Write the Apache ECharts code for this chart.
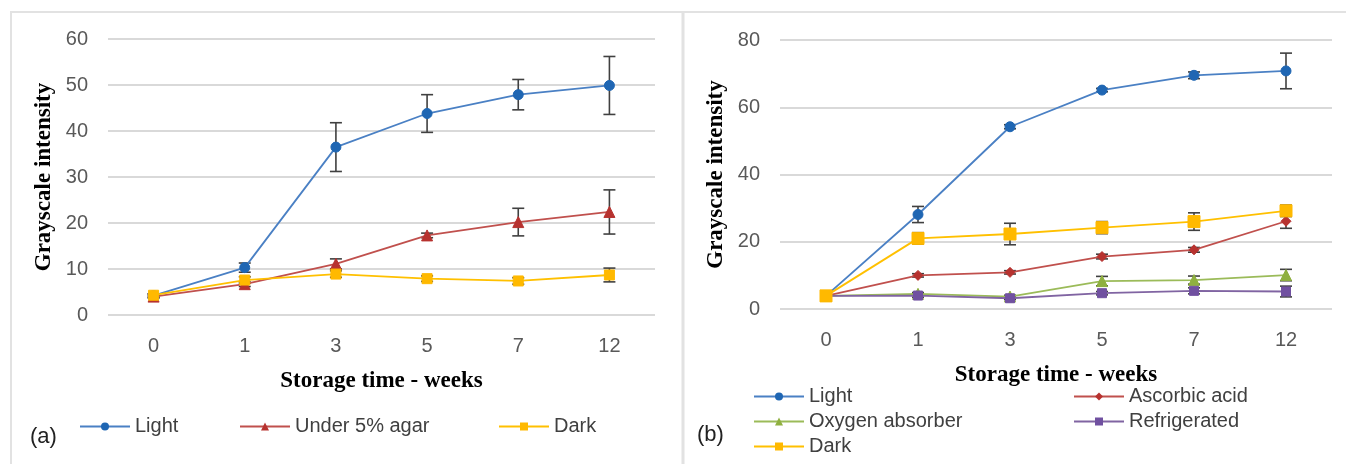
<!DOCTYPE html>
<html>
<head>
<meta charset="utf-8">
<script src="https://cdn.jsdelivr.net/npm/echarts@6/dist/echarts.min.js"></script>
<style>
html,body{margin:0;padding:0;background:#fff;}
#c{width:1346px;height:464px;}
</style>
</head>
<body>
<div id="c"></div>
<script>
// ---- Data ----
const weeks = ['0', '1', '3', '5', '7', '12'];
const yTicksA = [0, 10, 20, 30, 40, 50, 60];
const yTicksB = [0, 20, 40, 60, 80];

// Panel (a)
const aLight = [4.2, 10.3, 36.5, 43.8, 47.9, 49.9];
const aLightErr = [0.4, 1.0, 5.3, 4.1, 3.3, 6.3];
const aAgar = [4.0, 6.7, 11.1, 17.3, 20.2, 22.4];
const aAgarErr = [0.3, 0.5, 1.1, 0.5, 3.0, 4.8];
const aDark = [4.3, 7.6, 8.9, 7.9, 7.4, 8.7];
const aDarkErr = [0.3, 0.7, 0.7, 0.6, 0.7, 1.5];

// Panel (b)
const bLight = [3.9, 28.1, 54.2, 65.1, 69.5, 70.8];
const bLightErr = [0.3, 2.4, 0.6, 0.5, 1.0, 5.3];
const bAscorbic = [3.9, 10.0, 10.9, 15.6, 17.6, 26.1];
const bAscorbicErr = [0.3, 0.5, 0.5, 0.7, 0.7, 2.1];
const bOxygen = [3.9, 4.5, 3.7, 8.3, 8.6, 10.1];
const bOxygenErr = [0.3, 0.4, 0.4, 1.4, 1.2, 1.7];
const bFridge = [3.9, 4.0, 3.2, 4.7, 5.4, 5.2];
const bFridgeErr = [0.3, 0.5, 0.4, 0.5, 0.9, 1.6];
const bDark = [3.9, 21.0, 22.3, 24.2, 26.0, 29.2];
const bDarkErr = [0.3, 1.7, 3.2, 1.8, 2.6, 1.7];

// ---- Styles ----
const C = {
  blueLine: '#4a80c4', blueMark: '#1f66b3',
  redLine: '#c0504d', redMark: '#b7322f',
  yellow: '#ffc000', yellowMark: '#ffb900',
  greenLine: '#9bbb59', greenMark: '#8fb040',
  purpleLine: '#8064a2', purpleMark: '#7050a0'
};
const sansFont = '"Liberation Sans", Arial, sans-serif';
const serifFont = '"Liberation Serif", "Times New Roman", serif';

function errData(vals, errs) {
  return vals.map((v, i) => [i, v - errs[i], v + errs[i]]);
}
function renderErr(params, api) {
  const x = api.value(0);
  const lo = api.coord([x, api.value(1)]);
  const hi = api.coord([x, api.value(2)]);
  const w = 6;
  const st = { stroke: '#404040', lineWidth: 1.6, fill: null };
  return {
    type: 'group',
    children: [
      { type: 'line', shape: { x1: lo[0], y1: lo[1], x2: hi[0], y2: hi[1] }, style: st },
      { type: 'line', shape: { x1: lo[0] - w, y1: lo[1], x2: lo[0] + w, y2: lo[1] }, style: st },
      { type: 'line', shape: { x1: hi[0] - w, y1: hi[1], x2: hi[0] + w, y2: hi[1] }, style: st }
    ]
  };
}
function errSeries(vals, errs, idx) {
  return {
    type: 'custom', xAxisIndex: idx, yAxisIndex: idx, z: 1,
    renderItem: renderErr, data: errData(vals, errs), silent: true,
    encode: { x: 0, y: [1, 2] }
  };
}
function lineSeries(name, vals, idx, lineColor, markColor, symbol, size) {
  return {
    name: name, type: 'line', xAxisIndex: idx, yAxisIndex: idx, z: 3,
    data: vals, symbol: symbol, symbolSize: size,
    lineStyle: { color: lineColor, width: 1.8 },
    itemStyle: { color: markColor, borderColor: markColor },
    animation: false
  };
}
function yAxis(idx, ticks) {
  return {
    type: 'value', gridIndex: idx,
    min: ticks[0], max: ticks[ticks.length - 1], interval: ticks[1] - ticks[0],
    axisLine: { show: false }, axisTick: { show: false },
    axisLabel: { color: '#595959', fontSize: 20, fontFamily: sansFont, margin: 20 },
    splitLine: { lineStyle: { color: '#d9d9d9', width: 2 } },
    name: 'Grayscale intensity', nameLocation: 'middle', nameGap: 52, nameRotate: 90,
    nameTextStyle: { fontFamily: serifFont, fontWeight: 'bold', fontSize: 23, color: '#000' }
  };
}
function xAxis(idx) {
  return {
    type: 'category', gridIndex: idx, data: weeks, boundaryGap: true,
    axisLine: { show: false }, axisTick: { show: false },
    axisLabel: { color: '#595959', fontSize: 20, fontFamily: sansFont, margin: 21 },
    name: 'Storage time - weeks', nameLocation: 'middle', nameGap: 55,
    nameTextStyle: { fontFamily: serifFont, fontWeight: 'bold', fontSize: 23, color: '#000' }
  };
}
function legend(names, left, top, orient) {
  return {
    data: names, left: left, top: top, orient: orient || 'horizontal',
    padding: 0, height: 90,
    itemWidth: 50, itemHeight: 10, itemGap: 4,
    textStyle: { fontSize: 20, color: '#404040', fontFamily: sansFont, lineHeight: 21 },
    selectedMode: false
  };
}

const option = {
  backgroundColor: '#fff',
  animation: false,
  grid: [
    { left: 108, top: 39, width: 547, height: 276 },
    { left: 780, top: 40, width: 552, height: 269 }
  ],
  xAxis: [xAxis(0), xAxis(1)],
  yAxis: [yAxis(0, yTicksA), yAxis(1, yTicksB)],
  legend: [
    legend(['Light'], 79, 416),
    legend(['Under 5% agar'], 239, 416),
    legend(['Dark'], 498, 416),
    legend(['Light', 'Oxygen absorber', 'Dark'], 753, 386, 'vertical'),
    legend(['Ascorbic acid', 'Refrigerated'], 1073, 386, 'vertical')
  ],
  graphic: [
    { type: 'line', shape: { x1: 10, y1: 12, x2: 1346, y2: 12 }, style: { stroke: '#e2e2e2', lineWidth: 2 } },
    { type: 'line', shape: { x1: 11, y1: 12, x2: 11, y2: 464 }, style: { stroke: '#e2e2e2', lineWidth: 2 } },
    { type: 'line', shape: { x1: 683, y1: 12, x2: 683, y2: 464 }, style: { stroke: '#e2e2e2', lineWidth: 3 } },
    { type: 'text', left: 30, top: 426, style: { text: '(a)', fontSize: 22, fill: '#222', fontFamily: sansFont } },
    { type: 'text', left: 697, top: 424, style: { text: '(b)', fontSize: 22, fill: '#222', fontFamily: sansFont } }
  ],
  series: [
    errSeries(aLight, aLightErr, 0),
    errSeries(aAgar, aAgarErr, 0),
    errSeries(aDark, aDarkErr, 0),
    lineSeries('Light', aLight, 0, C.blueLine, C.blueMark, 'circle', 10),
    lineSeries('Under 5% agar', aAgar, 0, C.redLine, C.redMark, 'triangle', 11),
    lineSeries('Dark', aDark, 0, C.yellow, C.yellowMark, 'rect', 10),

    errSeries(bLight, bLightErr, 1),
    errSeries(bAscorbic, bAscorbicErr, 1),
    errSeries(bOxygen, bOxygenErr, 1),
    errSeries(bFridge, bFridgeErr, 1),
    errSeries(bDark, bDarkErr, 1),
    lineSeries('Light', bLight, 1, C.blueLine, C.blueMark, 'circle', 10),
    lineSeries('Ascorbic acid', bAscorbic, 1, C.redLine, C.redMark, 'diamond', 10),
    lineSeries('Oxygen absorber', bOxygen, 1, C.greenLine, C.greenMark, 'triangle', 11),
    lineSeries('Refrigerated', bFridge, 1, C.purpleLine, C.purpleMark, 'rect', 9),
    lineSeries('Dark', bDark, 1, C.yellow, C.yellowMark, 'rect', 12)
  ]
};
const chart = echarts.init(document.getElementById('c'), null, { renderer: 'canvas' });
chart.setOption(option);
</script>
</body>
</html>
